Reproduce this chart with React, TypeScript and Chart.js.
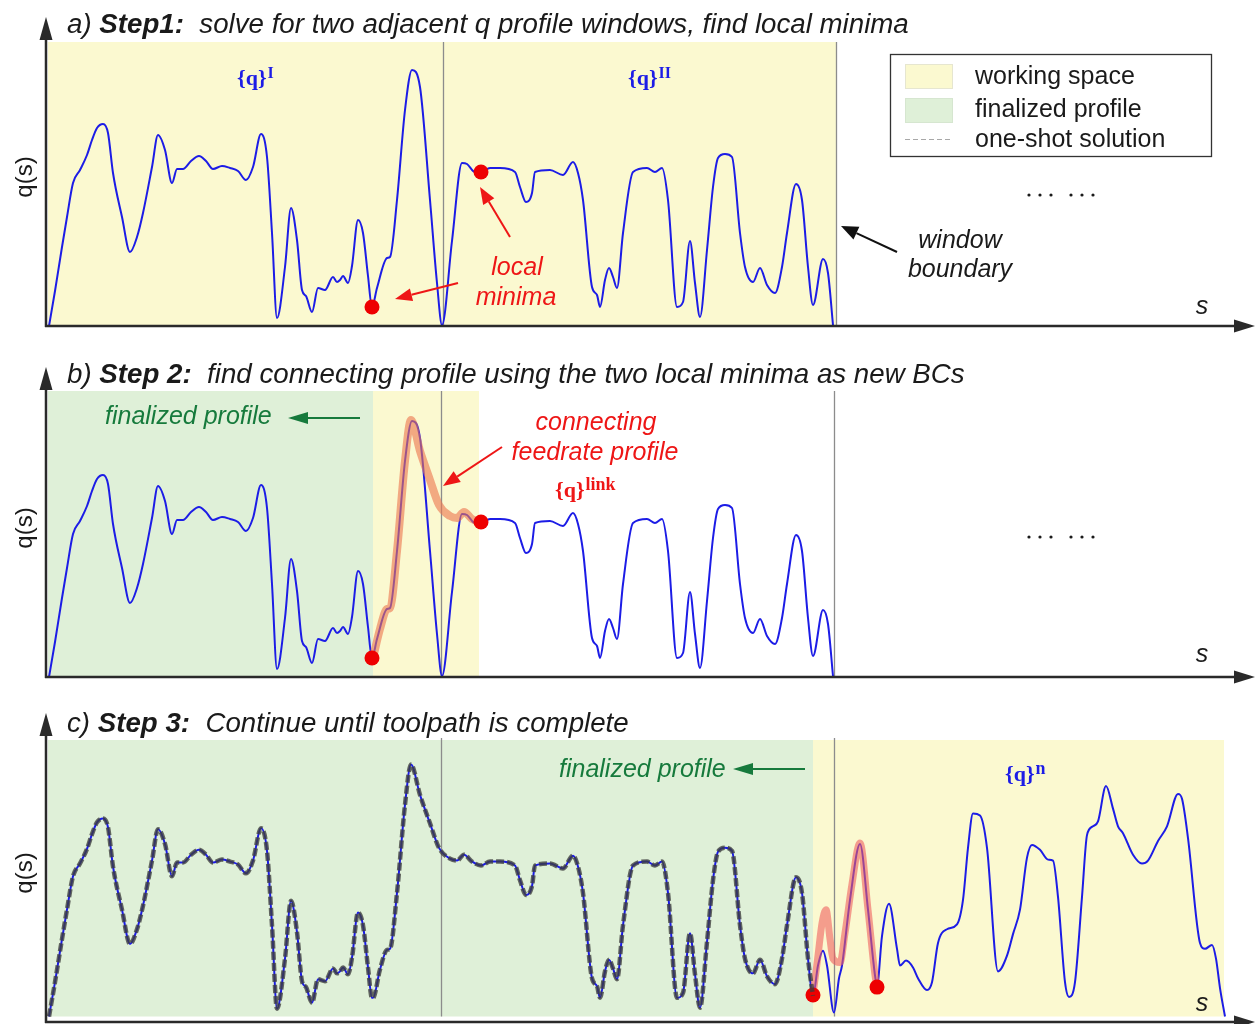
import React, { useEffect, useRef } from "react";
import { Chart, registerables } from "chart.js";

Chart.register(...registerables);

const PAGE_W = 1255;
const PAGE_H = 1024;

// ---------------- data (s = path length, q = feedrate) ----------------
// profile solved for the two adjacent windows {q}^I and {q}^II
const S_WIN = [3, 9, 16, 21, 27, 34, 41, 46, 51, 57, 62, 67, 76, 84, 91, 97, 106, 112, 119, 126, 131, 137, 145, 153, 160, 167, 176, 184, 192, 200, 207, 215, 221, 226, 231, 239, 245, 251, 256, 260, 266, 272, 279, 287, 291, 294, 297, 302, 306, 312, 317, 322, 326, 331, 341, 344, 351, 359, 366, 374, 384, 391, 396, 406, 416, 421, 429, 435, 444, 454, 469, 474, 480, 486, 489, 504, 517, 527, 532, 537, 546, 551, 554, 559, 563, 567, 571, 577, 587, 601, 609, 616, 622, 631, 637, 644, 649, 654, 661, 667, 672, 679, 686, 694, 699, 707, 714, 721, 729, 736, 741, 750, 756, 762, 767, 777, 782, 787];
const Q_WIN = [0, 35, 79, 109, 143, 156, 171, 186, 198, 202, 193, 153, 109, 74, 89, 113, 159, 191, 176, 143, 157, 157, 165, 170, 165, 157, 160, 158, 155, 146, 159, 192, 169, 93, 8, 59, 118, 86, 36, 30, 14, 38, 36, 49, 44, 46, 50, 43, 60, 106, 93, 50, 19, 38, 68, 69, 126, 216, 256, 239, 126, 43, 1, 85, 163, 162, 154, 154, 158, 158, 154, 139, 124, 133, 154, 156, 151, 164, 153, 126, 39, 31, 19, 46, 58, 49, 38, 93, 154, 158, 154, 158, 126, 19, 24, 85, 43, 9, 76, 139, 168, 172, 169, 93, 59, 44, 58, 41, 33, 59, 93, 142, 126, 59, 21, 67, 53, 1];

// connecting feedrate profile {q}^link between the two local minima
const S_LINK = [327, 334, 341, 344, 351, 359, 365, 374, 384, 393, 404, 411, 418, 426, 435];
const Q_LINK = [19, 48, 68, 69, 126, 216, 257, 226, 197, 172, 161, 159, 165, 158, 154];

// local minima used as new boundary conditions
const S_MIN_A = [326, 435];
const Q_MIN_A = [19, 154];
const S_MIN_C = [767, 831];
const Q_MIN_C = [22, 30];

// next window {q}^n (step 3)
const S_NEXT = [772, 777, 781, 788, 793, 796, 804, 814, 822, 829, 831, 836, 843, 851, 854, 860, 867, 872, 881, 886, 892, 901, 911, 917, 922, 927, 934, 941, 952, 961, 967, 974, 981, 986, 994, 1002, 1007, 1012, 1019, 1023, 1029, 1036, 1041, 1047, 1052, 1060, 1067, 1072, 1077, 1087, 1096, 1102, 1112, 1121, 1132, 1136, 1142, 1154, 1159, 1166, 1170, 1174, 1179];
const Q_NEXT = [52, 67, 52, 4, 39, 52, 119, 176, 109, 42, 31, 82, 115, 69, 52, 57, 50, 39, 27, 35, 75, 89, 94, 119, 172, 207, 205, 172, 46, 62, 84, 109, 162, 175, 170, 160, 159, 122, 35, 20, 35, 122, 185, 194, 199, 235, 212, 194, 187, 165, 156, 159, 179, 194, 227, 222, 182, 75, 69, 73, 59, 29, 0];

// second connecting profile (step 3)
const S_LINK2 = [767, 772, 776, 780, 784, 787, 794, 799, 806, 814, 822, 829, 831];
const Q_LINK2 = [22, 62, 95, 109, 79, 59, 55, 85, 135, 177, 109, 42, 30];

// window boundaries and shaded spans (in s units)
const BOUNDS_A = [397, 790];
const BOUNDS_BC = [395, 788];
const WORK_A = [2, 790];
const FINAL_B = [2, 327];
const WORK_B = [327, 433];
const FINAL_C = [2, 767];
const WORK_C = [767, 1178];

// ---------------- styling ----------------
const SANS = '"Liberation Sans", Arial, sans-serif';
const SERIF = '"Liberation Serif", "Times New Roman", serif';
const YELLOW = "#fbf9d0";
const GREEN = "#dff0d8";
const BLUE = "#1c1ce6";
const RED = "#ee1616";
const DGREEN = "#167a3c";
const INK = "#1a1a1a";

type Pt = { x: number; y: number };
const zip = (S: number[], Q: number[]): Pt[] => S.map((s, i) => ({ x: s, y: Q[i] }));

const winPts = zip(S_WIN, Q_WIN);
const linkPts = zip(S_LINK, Q_LINK);
const finalPts: Pt[] = [
  ...winPts.filter((p) => p.x < 327),
  ...linkPts,
  ...winPts.filter((p) => p.x > 435 && p.x <= 767),
];
const fullPtsC: Pt[] = [...finalPts, ...zip(S_NEXT, Q_NEXT)];

function lineDs(data: Pt[], color: string, width: number, order: number, extra: any = {}) {
  return {
    type: "line",
    data,
    borderColor: color,
    borderWidth: width,
    pointRadius: 0,
    fill: false,
    cubicInterpolationMode: "monotone",
    clip: false,
    order,
    ...extra,
  };
}
function dotDs(data: Pt[], order: number) {
  return {
    type: "line",
    data,
    showLine: false,
    pointRadius: 7.5,
    pointBackgroundColor: "#ee0000",
    pointBorderWidth: 0,
    clip: false,
    order,
  };
}

// ---------------- drawing helpers ----------------
function arrow(ctx: CanvasRenderingContext2D, x1: number, y1: number, x2: number, y2: number, color: string, lw: number, headLen: number, headHalf: number) {
  const a = Math.atan2(y2 - y1, x2 - x1);
  const bx = x2 - headLen * Math.cos(a);
  const by = y2 - headLen * Math.sin(a);
  ctx.save();
  ctx.strokeStyle = color;
  ctx.fillStyle = color;
  ctx.lineWidth = lw;
  ctx.beginPath();
  ctx.moveTo(x1, y1);
  ctx.lineTo(bx, by);
  ctx.stroke();
  ctx.beginPath();
  ctx.moveTo(x2, y2);
  ctx.lineTo(bx + headHalf * Math.sin(a), by - headHalf * Math.cos(a));
  ctx.lineTo(bx - headHalf * Math.sin(a), by + headHalf * Math.cos(a));
  ctx.closePath();
  ctx.fill();
  ctx.restore();
}

function axes(ctx: CanvasRenderingContext2D, axisY: number, tipY: number) {
  ctx.save();
  ctx.strokeStyle = "#2a2a2a";
  ctx.fillStyle = "#2a2a2a";
  ctx.lineWidth = 2.5;
  ctx.beginPath();
  ctx.moveTo(46, axisY + 1);
  ctx.lineTo(46, tipY + 20);
  ctx.moveTo(45, axisY);
  ctx.lineTo(1237, axisY);
  ctx.stroke();
  ctx.beginPath();
  ctx.moveTo(46, tipY);
  ctx.lineTo(39.5, tipY + 23);
  ctx.lineTo(52.5, tipY + 23);
  ctx.closePath();
  ctx.fill();
  ctx.beginPath();
  ctx.moveTo(1255, axisY);
  ctx.lineTo(1234, axisY - 6.5);
  ctx.lineTo(1234, axisY + 6.5);
  ctx.closePath();
  ctx.fill();
  ctx.restore();
}

function text(ctx: CanvasRenderingContext2D, s: string, x: number, y: number, font: string, color: string, align: CanvasTextAlign = "left") {
  ctx.save();
  ctx.font = font;
  ctx.fillStyle = color;
  ctx.textAlign = align;
  ctx.textBaseline = "alphabetic";
  ctx.fillText(s, x, y);
  ctx.restore();
}

type Part = { t: string; bold?: boolean };
function title(ctx: CanvasRenderingContext2D, parts: Part[], x: number, y: number, width: number) {
  const base = 22;
  const fnt = (p: Part, size: number) => `italic ${p.bold ? "bold " : ""}${size}px ${SANS}`;
  ctx.save();
  let w = 0;
  for (const p of parts) {
    ctx.font = fnt(p, base);
    w += ctx.measureText(p.t).width;
  }
  const size = (base * width) / w;
  let cx = x;
  ctx.fillStyle = INK;
  ctx.textBaseline = "alphabetic";
  ctx.textAlign = "left";
  for (const p of parts) {
    ctx.font = fnt(p, size);
    ctx.fillText(p.t, cx, y);
    cx += ctx.measureText(p.t).width;
  }
  ctx.restore();
}

function qLabel(ctx: CanvasRenderingContext2D, x: number, y: number, sup: string, color: string, supSize = 17) {
  ctx.save();
  ctx.fillStyle = color;
  ctx.textBaseline = "alphabetic";
  ctx.textAlign = "left";
  ctx.font = `bold 22px ${SERIF}`;
  ctx.fillText("{q}", x, y);
  const w = ctx.measureText("{q}").width;
  ctx.font = `bold ${supSize}px ${SERIF}`;
  ctx.fillText(sup, x + w + 1, y - 7);
  ctx.restore();
}

function yLabel(ctx: CanvasRenderingContext2D, cy: number) {
  ctx.save();
  ctx.translate(25, cy);
  ctx.rotate(-Math.PI / 2);
  ctx.font = `24px ${SANS}`;
  ctx.fillStyle = INK;
  ctx.textAlign = "center";
  ctx.textBaseline = "middle";
  ctx.fillText("q(s)", 0, 0);
  ctx.restore();
}

function ellipsis(ctx: CanvasRenderingContext2D, y: number) {
  ctx.save();
  ctx.fillStyle = INK;
  for (const x of [1029, 1040, 1051, 1071, 1082, 1093]) {
    ctx.beginPath();
    ctx.arc(x, y, 1.6, 0, Math.PI * 2);
    ctx.fill();
  }
  ctx.restore();
}

function shade(chart: any, span: number[], color: string) {
  const { ctx, chartArea, scales } = chart;
  const x0 = scales.x.getPixelForValue(span[0]);
  const x1 = scales.x.getPixelForValue(span[1]);
  ctx.save();
  ctx.fillStyle = color;
  ctx.fillRect(x0, chartArea.top, x1 - x0, chartArea.bottom - chartArea.top);
  ctx.restore();
}

function bounds(chart: any, xs: number[], top: number) {
  const { ctx, chartArea, scales } = chart;
  ctx.save();
  ctx.strokeStyle = "#8c8c8c";
  ctx.lineWidth = 1.3;
  for (const s of xs) {
    const x = Math.round(scales.x.getPixelForValue(s)) + 0.5;
    ctx.beginPath();
    ctx.moveTo(x, top);
    ctx.lineTo(x, chartArea.bottom);
    ctx.stroke();
  }
  ctx.restore();
}

// ---------------- panels ----------------
type Panel = {
  top: number;
  axis: number;
  datasets: any[];
  before: (chart: any) => void;
  after: (chart: any) => void;
};

const sItalic = `italic 25px ${SANS}`;
const sPlain = `25px ${SANS}`;

const PANELS: Panel[] = [
  {
    top: 42,
    axis: 326,
    datasets: [dotDs(zip(S_MIN_A, Q_MIN_A), 0), lineDs(winPts, BLUE, 2, 2)],
    before: (chart) => {
      shade(chart, WORK_A, YELLOW);
      bounds(chart, BOUNDS_A, 42);
    },
    after: (chart) => {
      const ctx = chart.ctx as CanvasRenderingContext2D;
      axes(ctx, 326, 17);
      title(ctx, [{ t: "a) " }, { t: "Step1:", bold: true }, { t: "  solve for two adjacent q profile windows, find local minima" }], 67, 33, 842);
      qLabel(ctx, 237, 85, "I", BLUE, 16);
      qLabel(ctx, 628, 85, "II", BLUE, 16);
      // legend
      ctx.save();
      ctx.fillStyle = "#ffffff";
      ctx.fillRect(890, 54, 321, 102);
      ctx.strokeStyle = "#333";
      ctx.lineWidth = 1.3;
      ctx.strokeRect(890.5, 54.5, 321, 102);
      ctx.fillStyle = YELLOW;
      ctx.fillRect(905, 64, 47, 24);
      ctx.fillStyle = GREEN;
      ctx.fillRect(905, 98, 47, 24);
      ctx.strokeStyle = "#e6e6d0";
      ctx.lineWidth = 1;
      ctx.strokeRect(905.5, 64.5, 47, 24);
      ctx.strokeStyle = "#d6e6d0";
      ctx.strokeRect(905.5, 98.5, 47, 24);
      ctx.strokeStyle = "#a8a8a8";
      ctx.setLineDash([5, 3]);
      ctx.beginPath();
      ctx.moveTo(905, 139.5);
      ctx.lineTo(952, 139.5);
      ctx.stroke();
      ctx.setLineDash([]);
      ctx.restore();
      text(ctx, "working space", 975, 84, sPlain, INK);
      text(ctx, "finalized profile", 975, 117, sPlain, INK);
      text(ctx, "one-shot solution", 975, 147, sPlain, INK);
      ellipsis(ctx, 195);
      // window boundary
      text(ctx, "window", 960, 248, sItalic, INK, "center");
      text(ctx, "boundary", 960, 277, sItalic, INK, "center");
      arrow(ctx, 897, 252, 841, 226, "#111", 2, 17, 7);
      // local minima
      text(ctx, "local", 517, 275, sItalic, RED, "center");
      text(ctx, "minima", 516, 305, sItalic, RED, "center");
      arrow(ctx, 458, 283, 395, 299, RED, 2, 17, 6.5);
      arrow(ctx, 510, 237, 480, 187, RED, 2, 17, 6.5);
      text(ctx, "s", 1202, 314, sItalic, INK, "center");
      yLabel(ctx, 177);
    },
  },
  {
    top: 391,
    axis: 677,
    datasets: [
      dotDs(zip(S_MIN_A, Q_MIN_A.map((q, i) => (i === 0 ? q : q + 1))), 0),
      lineDs(linkPts, "rgba(236,120,80,0.62)", 8, 1),
      lineDs(winPts, BLUE, 2, 2),
    ],
    before: (chart) => {
      shade(chart, FINAL_B, GREEN);
      shade(chart, WORK_B, YELLOW);
      bounds(chart, BOUNDS_BC, 391);
    },
    after: (chart) => {
      const ctx = chart.ctx as CanvasRenderingContext2D;
      axes(ctx, 677, 367);
      title(ctx, [{ t: "b) " }, { t: "Step 2:", bold: true }, { t: "  find connecting profile using the two local minima as new BCs" }], 67, 383, 898);
      text(ctx, "finalized profile", 105, 424, sItalic, DGREEN);
      arrow(ctx, 360, 418, 288, 418, DGREEN, 2, 20, 6);
      text(ctx, "connecting", 596, 430, sItalic, RED, "center");
      text(ctx, "feedrate profile", 595, 460, sItalic, RED, "center");
      arrow(ctx, 502, 447, 443, 486, RED, 2, 17, 6.5);
      qLabel(ctx, 555, 497, "link", RED, 18);
      ellipsis(ctx, 537);
      text(ctx, "s", 1202, 662, sItalic, INK, "center");
      yLabel(ctx, 528);
    },
  },
  {
    top: 740,
    axis: 1022,
    datasets: [
      lineDs(finalPts, "rgba(60,60,60,0.78)", 4.5, 0, { borderDash: [8, 3] }),
      dotDs(zip(S_MIN_C, Q_MIN_C), 1),
      lineDs(zip(S_LINK2, Q_LINK2), "rgba(240,95,95,0.6)", 7, 2),
      lineDs(fullPtsC, BLUE, 2, 3),
    ],
    before: (chart) => {
      shade(chart, FINAL_C, GREEN);
      shade(chart, WORK_C, YELLOW);
      bounds(chart, BOUNDS_BC, 738);
    },
    after: (chart) => {
      const ctx = chart.ctx as CanvasRenderingContext2D;
      axes(ctx, 1022, 713);
      title(ctx, [{ t: "c) " }, { t: "Step 3:", bold: true }, { t: "  Continue until toolpath is complete" }], 67, 732, 562);
      text(ctx, "finalized profile", 559, 777, sItalic, DGREEN);
      arrow(ctx, 805, 769, 733, 769, DGREEN, 2, 20, 6);
      qLabel(ctx, 1005, 781, "n", BLUE, 18);
      text(ctx, "s", 1202, 1011, sItalic, INK, "center");
      yLabel(ctx, 873);
    },
  },
];

function PanelChart({ panel }: { panel: Panel }) {
  const ref = useRef<HTMLCanvasElement | null>(null);
  useEffect(() => {
    if (!ref.current) return;
    const plugin = {
      id: "panelDecor",
      beforeDatasetsDraw: (chart: any) => panel.before(chart),
      afterDatasetsDraw: (chart: any) => panel.after(chart),
    };
    const chart = new Chart(ref.current, {
      type: "line",
      data: { datasets: panel.datasets as any },
      options: {
        animation: false,
        responsive: false,
        events: [],
        devicePixelRatio: 1,
        layout: { padding: { left: 46, right: PAGE_W - 1246, top: panel.top, bottom: PAGE_H - panel.axis } },
        scales: {
          x: { type: "linear", min: 0, max: 1200, display: false },
          y: { type: "linear", min: 0, max: panel.axis - panel.top, display: false },
        },
        plugins: { legend: { display: false }, tooltip: { enabled: false } },
      } as any,
      plugins: [plugin],
    });
    return () => chart.destroy();
  }, [panel]);
  return (
    <canvas
      ref={ref}
      width={PAGE_W}
      height={PAGE_H}
      style={{ position: "absolute", left: 0, top: 0, width: PAGE_W, height: PAGE_H }}
    />
  );
}

export default function App() {
  return (
    <div style={{ position: "absolute", left: 0, top: 0, width: PAGE_W, height: PAGE_H, background: "#fff" }}>
      {PANELS.map((p, i) => (
        <PanelChart key={i} panel={p} />
      ))}
    </div>
  );
}
